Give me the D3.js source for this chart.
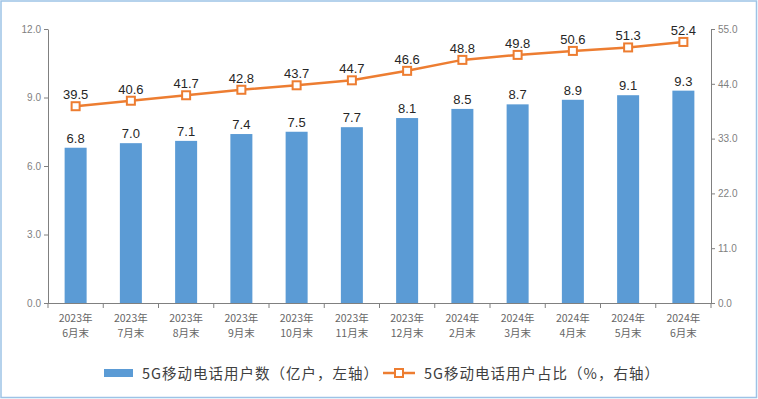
<!DOCTYPE html>
<html><head><meta charset="utf-8">
<script src="https://cdn.jsdelivr.net/npm/d3@7"></script>
<style>
html,body{margin:0;padding:0;background:#fff;}
svg{display:block;font-family:"Noto Sans CJK SC","Noto Sans",sans-serif;}
</style></head>
<body><svg id="c" width="758" height="399"></svg>
<script>
const yearLabels = ["2023年","2023年","2023年","2023年","2023年","2023年","2023年","2024年","2024年","2024年","2024年","2024年"];
const monthLabels = ["6月末","7月末","8月末","9月末","10月末","11月末","12月末","2月末","3月末","4月末","5月末","6月末"];
const users = [6.8,7.0,7.1,7.4,7.5,7.7,8.1,8.5,8.7,8.9,9.1,9.3];
const share = [39.5,40.6,41.7,42.8,43.7,44.7,46.6,48.8,49.8,50.6,51.3,52.4];
const leftTicks = [0,3,6,9,12];
const rightTicks = [0,11,22,33,44,55];
const legendBar = "5G移动电话用户数（亿户，左轴）";
const legendLine = "5G移动电话用户占比（%，右轴）";

const svg = d3.select("#c");
const barColor = "#5B9BD5", lineColor = "#ED7D31";
const x0 = 48, x1 = 711, yTop = 29, yBot = 303;
const cats = d3.range(users.length);
const xb = d3.scaleBand().domain(cats).range([x0, x1]);
const yL = d3.scaleLinear().domain([0,12]).range([yBot, yTop]);
const yR = d3.scaleLinear().domain([0,55]).range([yBot, yTop]);

// border
svg.append("rect").attr("x",1).attr("y",1).attr("width",755.5).attr("height",396.5)
  .attr("fill","none").attr("stroke","#9DC3E6").attr("stroke-width",1.5);

// bars
svg.selectAll("rect.bar").data(users).join("rect").attr("class","bar")
  .attr("x",(d,i)=>xb(i)+xb.bandwidth()/2-11).attr("width",22)
  .attr("y",d=>yL(d)).attr("height",d=>yBot-yL(d)).attr("fill",barColor);

// axes
const gl = svg.append("g").attr("transform",`translate(${x0},0)`)
  .call(d3.axisLeft(yL).tickValues(leftTicks).tickFormat(d3.format(".1f")).tickSize(4).tickSizeOuter(0));
const gr = svg.append("g").attr("transform",`translate(${x1},0)`)
  .call(d3.axisRight(yR).tickValues(rightTicks).tickFormat(d3.format(".1f")).tickSize(4).tickSizeOuter(0));
[gl,gr].forEach(g=>{
  g.select(".domain").attr("stroke","#808080");
  g.selectAll(".tick line").attr("stroke","#808080");
  g.selectAll(".tick text").attr("fill","#7f7f7f").style("font-size","10px").style("font-family","'Liberation Sans',Arial,sans-serif");
});
gl.selectAll(".tick text").attr("x",-7);
gr.selectAll(".tick text").attr("x",7);

// x axis line and ticks at boundaries
svg.append("line").attr("x1",x0).attr("x2",x1).attr("y1",yBot+0.5).attr("y2",yBot+0.5).attr("stroke","#808080");
svg.selectAll("line.xt").data(d3.range(users.length+1)).join("line").attr("class","xt")
  .attr("x1",i=>x0+i*xb.step()).attr("x2",i=>x0+i*xb.step())
  .attr("y1",yBot).attr("y2",yBot+5).attr("stroke","#808080");

// x labels
const xl = svg.selectAll("text.xl").data(cats).join("text").attr("class","xl")
  .attr("text-anchor","middle").attr("fill","#666").style("font-size","10.5px");
xl.append("tspan").attr("x",i=>xb(i)+xb.bandwidth()/2).attr("y",322).text(i=>yearLabels[i]);
xl.append("tspan").attr("x",i=>xb(i)+xb.bandwidth()/2).attr("y",337).text(i=>monthLabels[i]);

// bar labels
svg.selectAll("text.bl").data(users).join("text").attr("class","bl")
  .attr("x",(d,i)=>xb(i)+xb.bandwidth()/2).attr("y",d=>yL(d)-5)
  .attr("text-anchor","middle").attr("fill","#262626")
  .style("font-size","13px").style("font-family","'Liberation Sans',Arial,sans-serif")
  .text(d=>d.toFixed(1));

// line
const line = d3.line().x((d,i)=>xb(i)+xb.bandwidth()/2).y(d=>yR(d));
svg.append("path").datum(share).attr("d",line).attr("fill","none").attr("stroke",lineColor).attr("stroke-width",2.5);
svg.selectAll("rect.mk").data(share).join("rect").attr("class","mk")
  .attr("x",(d,i)=>xb(i)+xb.bandwidth()/2-4).attr("y",d=>yR(d)-4).attr("width",8).attr("height",8)
  .attr("fill","#fff").attr("stroke",lineColor).attr("stroke-width",2);
svg.selectAll("text.ll").data(share).join("text").attr("class","ll")
  .attr("x",(d,i)=>xb(i)+xb.bandwidth()/2).attr("y",d=>yR(d)-7)
  .attr("text-anchor","middle").attr("fill","#262626")
  .style("font-size","13px").style("font-family","'Liberation Sans',Arial,sans-serif")
  .text(d=>d.toFixed(1));

// legend
svg.append("rect").attr("x",104).attr("y",369).attr("width",29).attr("height",8).attr("fill",barColor);
svg.append("text").attr("x",142).attr("y",378.5).attr("fill","#404040").style("font-size","14.5px").style("letter-spacing","1px").text(legendBar);
svg.append("line").attr("x1",383).attr("x2",415).attr("y1",373).attr("y2",373).attr("stroke",lineColor).attr("stroke-width",2.5);
svg.append("rect").attr("x",395).attr("y",369).attr("width",8).attr("height",8).attr("fill","#fff").attr("stroke",lineColor).attr("stroke-width",2);
svg.append("text").attr("x",424).attr("y",378.5).attr("fill","#404040").style("font-size","14.5px").style("letter-spacing","1px").text(legendLine);
</script></body></html>
